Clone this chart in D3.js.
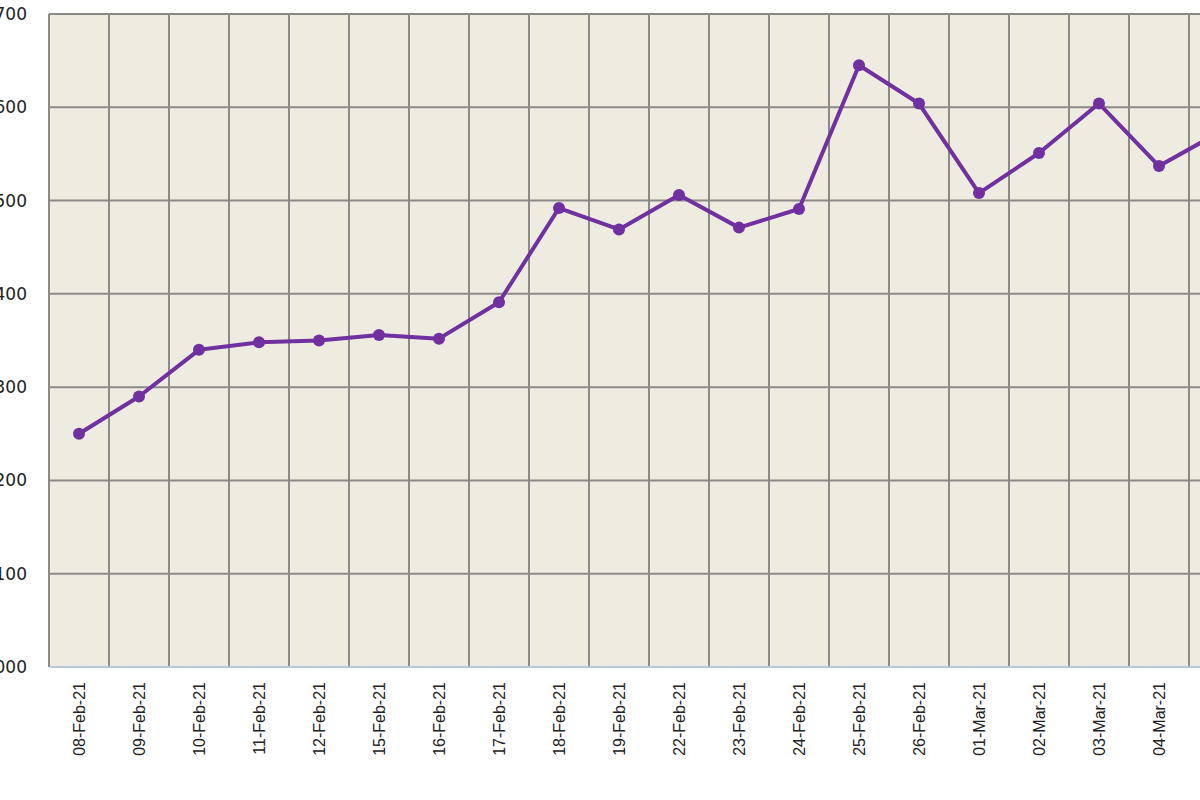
<!DOCTYPE html>
<html><head><meta charset="utf-8">
<script src="https://cdn.jsdelivr.net/npm/d3@7"></script>
<style>body{margin:0;background:#fff}</style></head>
<body><svg id="c" width="1200" height="800"></svg>
<script>
const categories = ["08-Feb-21","09-Feb-21","10-Feb-21","11-Feb-21","12-Feb-21","15-Feb-21","16-Feb-21","17-Feb-21","18-Feb-21","19-Feb-21","22-Feb-21","23-Feb-21","24-Feb-21","25-Feb-21","26-Feb-21","01-Mar-21","02-Mar-21","03-Mar-21","04-Mar-21","05-Mar-21"];
const values = [1250,1290,1340,1348,1350,1356,1352,1391,1492,1469,1506,1471,1491,1645,1604,1508,1551,1604,1537,1573];
const yTicks = [1000,1100,1200,1300,1400,1500,1600,1700];

const svg = d3.select("#c");
const x = d3.scaleBand().domain(categories).range([49,1249]);
const y = d3.scaleLinear().domain([1000,1700]).range([667,14]);

svg.append("rect").attr("x",49).attr("y",14).attr("width",1200).attr("height",653).attr("fill","#EEEBE1");
const g = svg.append("g");
g.selectAll(".h").data(yTicks).join("line").attr("x1",49).attr("x2",1200)
  .attr("y1",d=>y(d)).attr("y2",d=>y(d)).attr("stroke","#8c8a86").attr("stroke-width",2);
const vx = categories.map(c=>x(c));
g.selectAll(".v").data(vx).join("line").attr("x1",d=>d).attr("x2",d=>d)
  .attr("y1",14).attr("y2",667).attr("stroke","#8c8a86").attr("stroke-width",2);
svg.append("line").attr("x1",49).attr("x2",1200).attr("y1",667).attr("y2",667).attr("stroke","#b9c7dd").attr("stroke-width",2);

svg.selectAll(".yl").data(yTicks).join("text").attr("x",27).attr("y",d=>y(d)+6)
  .attr("text-anchor","end").attr("font-family","DejaVu Sans").attr("font-size",17).attr("fill","#222")
  .attr("dx",-0).text(d=>d)
  .attr("textLength",null);
// shift labels so only the last digits remain visible, as in the reference
svg.selectAll("text").filter(function(){return this.getAttribute("text-anchor")==="end"}).attr("x",27);

svg.selectAll(".xl").data(categories).join("text")
  .attr("transform",d=>`translate(${x(d)+x.bandwidth()/2+6},682) rotate(-90)`)
  .attr("text-anchor","end").attr("font-family","Liberation Sans").attr("font-size",16).attr("fill","#222")
  .text(d=>d);

const cx = d=>x(d)+x.bandwidth()/2;
svg.append("path").datum(categories.map((c,i)=>[cx(c),y(values[i])]))
  .attr("d",d3.line()).attr("fill","none").attr("stroke","#7030A0").attr("stroke-width",4).attr("stroke-linejoin","round");
svg.selectAll(".p").data(categories).join("circle").attr("cx",cx).attr("cy",(d,i)=>y(values[i]))
  .attr("r",6).attr("fill","#7030A0");
</script></body></html>
